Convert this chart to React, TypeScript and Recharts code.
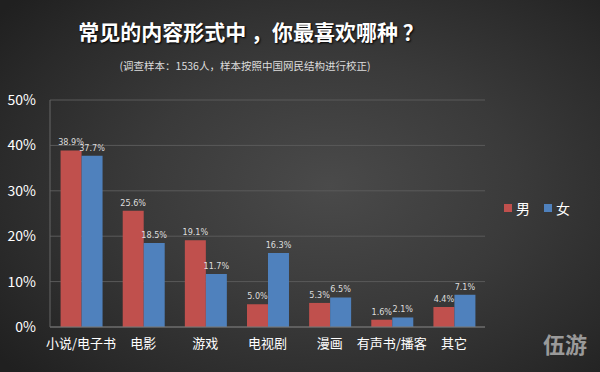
import React from "react";
import { BarChart, Bar, XAxis, YAxis, CartesianGrid, LabelList } from "recharts";

const categories = ["小说/电子书", "电影", "游戏", "电视剧", "漫画", "有声书/播客", "其它"];
const maleValues = [38.9, 25.6, 19.1, 5.0, 5.3, 1.6, 4.4];
const femaleValues = [37.7, 18.5, 11.7, 16.3, 6.5, 2.1, 7.1];
const yTicks = [0, 10, 20, 30, 40, 50];
const seriesNames = ["男", "女"];
const seriesColors = ["#c0504d", "#4f81bd"];

const data = categories.map((c, i) => ({ name: c, male: maleValues[i], female: femaleValues[i] }));

const FONT = "'Noto Sans CJK SC', 'Noto Sans', sans-serif";
const NARROW = "'Liberation Sans Narrow', 'DejaVu Sans Condensed', 'Noto Sans', sans-serif";

const fmt = (v: any) => `${Number(v).toFixed(1)}%`;

export default function App() {
  return (
    <div
      style={{
        position: "absolute",
        left: 0,
        top: 0,
        width: 600,
        height: 372,
        overflow: "hidden",
        fontFamily: FONT,
        background:
          "radial-gradient(ellipse 70% 75% at 55% 50%, #4a4a4a 0%, #3a3a3a 45%, #2a2a2a 80%, #202020 100%)",
      }}
    >
      <div
        style={{
          position: "absolute",
          left: 4,
          width: 494,
          top: 16,
          textAlign: "center",
          color: "#ffffff",
          fontSize: 21,
          fontWeight: 700,
          lineHeight: "30px",
          textShadow: "1px 1px 2px #000",
        }}
      >
        常见的内容形式中 ，你最喜欢哪种 ？
      </div>
      <div
        style={{
          position: "absolute",
          left: 0,
          width: 490,
          top: 58,
          textAlign: "center",
          color: "#dddddd",
          fontSize: 10.5,
          lineHeight: "16px",
        }}
      >
        (调查样本：1536人，样本按照中国网民结构进行校正)
      </div>
      <BarChart
        width={600}
        height={372}
        data={data}
        margin={{ top: 100, right: 115, bottom: 15, left: 0 }}
        barCategoryGap="17%"
        barGap={0}
        style={{ position: "absolute", left: 0, top: 0, fontFamily: FONT }}
      >
        <CartesianGrid vertical={false} stroke="#5a5a5a" strokeWidth={1} />
        <XAxis
          dataKey="name"
          height={30}
          interval={0}
          axisLine={{ stroke: "#777777" }}
          tickLine={false}
          tick={{ fill: "#ffffff", fontSize: 13 }}
          tickMargin={6}
        />
        <YAxis
          domain={[0, 50]}
          ticks={yTicks}
          width={50}
          tickFormatter={(v) => `${v}%`}
          axisLine={{ stroke: "#666666" }}
          tickLine={false}
          tick={{ fill: "#ffffff", fontSize: 14 }}
          tickMargin={8}
        />
        <Bar dataKey="male" name={seriesNames[0]} fill={seriesColors[0]} isAnimationActive={false}>
          <LabelList
            dataKey="male"
            position="top"
            formatter={fmt}
            fill="#dddddd"
            fontSize={9}
            fontFamily={NARROW}
            offset={5}
          />
        </Bar>
        <Bar dataKey="female" name={seriesNames[1]} fill={seriesColors[1]} isAnimationActive={false}>
          <LabelList
            dataKey="female"
            position="top"
            formatter={fmt}
            fill="#dddddd"
            fontSize={9}
            fontFamily={NARROW}
            offset={5}
          />
        </Bar>
      </BarChart>
      <div
        style={{
          position: "absolute",
          left: 504,
          top: 199,
          display: "flex",
          alignItems: "center",
          color: "#ffffff",
          fontSize: 14,
          lineHeight: "18px",
        }}
      >
        {seriesNames.map((n, i) => (
          <div key={n} style={{ display: "flex", alignItems: "center", marginRight: 14 }}>
            <span
              style={{
                display: "inline-block",
                width: 8,
                height: 8,
                background: seriesColors[i],
                marginRight: 4,
              }}
            />
            <span>{n}</span>
          </div>
        ))}
      </div>
      <div
        style={{
          position: "absolute",
          left: 543,
          top: 328,
          color: "#9a9a9a",
          fontSize: 22,
          fontWeight: 700,
          lineHeight: "30px",
        }}
      >
        伍游
      </div>
    </div>
  );
}
